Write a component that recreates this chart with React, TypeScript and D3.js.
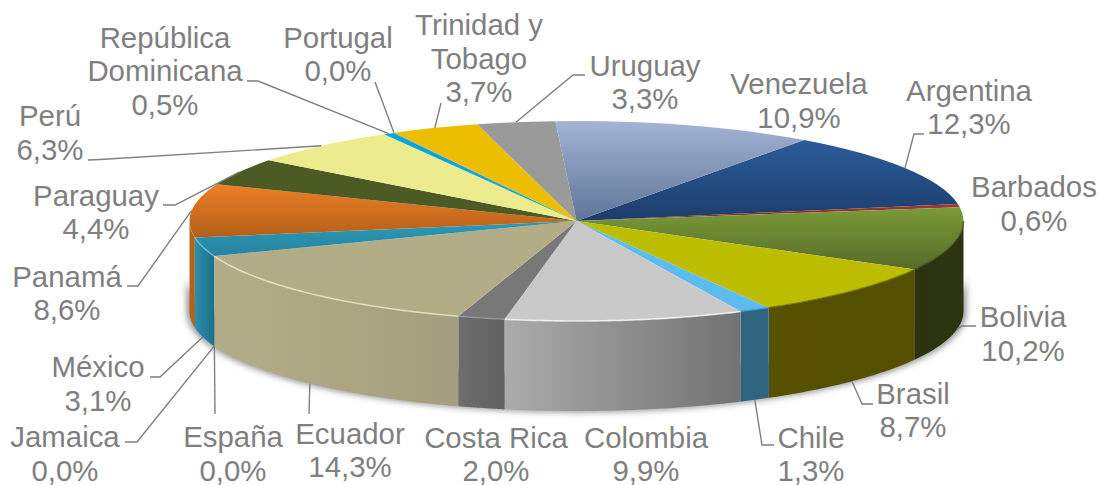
import React from "react";
import * as d3 from "d3";

const categories = ["Argentina","Barbados","Bolivia","Brasil","Chile","Colombia","Costa Rica","Ecuador","España","Jamaica","México","Panamá","Paraguay","Perú","República Dominicana","Portugal","Trinidad y Tobago","Uruguay","Venezuela"];
const values = [12.25,0.55,10.24,8.66,1.3,9.94,1.96,14.3,0.02,0.02,3.06,8.64,4.36,6.34,0.45,0.04,3.66,3.26,10.86];

const topLight = ["#2b5c9a","#a33a36","#7a9a38","#bdbd00","#5cbcf0","#c9c9c9","#787878","#b3ad87","#8a8a3a","#888","#2b9ab8","#ed7f26","#4c5a24","#ecec8e","#00a6de","#888","#edbe00","#9a9a9a","#a3b4d4"];
const topDark = ["#1c3d6b","#7a2a28","#566c28","#bdbd00","#5cbcf0","#c9c9c9","#787878","#b3ad87","#8a8a3a","#888","#27839f","#b35f18","#4c5a24","#ecec8e","#00a6de","#888","#edbe00","#9a9a9a","#5f7597"];
const wallLight = ["#1c3d6b","#7a2a28","#2a3210","#565000","#2f6480","#ababab","#6e6e6e","#b3ad87","#8a8a3a","#888","#2c8fae","#b8651a","#4c5a24","#ecec8e","#00a6de","#888","#edbe00","#9a9a9a","#5f7597"];
const wallDark = ["#1c3d6b","#7a2a28","#2c3410","#545000","#2f6480","#727272","#606060","#a49e7e","#8a8a3a","#888","#1f6f8a","#b0601a","#4c5a24","#ecec8e","#00a6de","#888","#edbe00","#9a9a9a","#5f7597"];
const rimColor = ["none","none","#3a4416","#5c5800","#3f86ac","#ffffff","#9a9a9a","#f2ecc6","none","none","#6cc4dc","none","none","none","none","none","none","none","none"];

const labelLines = [["Argentina"],["Barbados"],["Bolivia"],["Brasil"],["Chile"],["Colombia"],["Costa Rica"],["Ecuador"],["España"],["Jamaica"],["México"],["Panamá"],["Paraguay"],["Perú"],["República","Dominicana"],["Portugal"],["Trinidad y","Tobago"],["Uruguay"],["Venezuela"]];
const labelX = [969,1034,1023,913,811,646,496,350,233,65,98,67,96,50,165,338,479,645,799];
const labelY = [100.7,197,327,403.5,447.7,447.7,447.7,443.5,447,447,377,286.5,205.7,126,47.5,47.5,35,75.7,94];
// leader elbows: [elbow, end] in page pixels; null = the label has no leader
const leaderEnds: ([number, number][] | null)[] = [
  [[914,134],[924,134]], null, [[962,326],[976,326]], [[862,404],[873,404]], [[762,445],[774,445]],
  null, null, [[309,414]], [[215,414]], [[137,442],[125,442]], [[160,377],[150,377]],
  [[138,286],[127,286]], [[175,205],[163,205]], [[100,159.5],[88,160]], [[258,81],[247,81]],
  [[375,82]], [[441,103]], [[573,75],[585,75]], null,
];

const W = 1099, H = 485;
const cx = 576.5, cy = 221, rx = 387, ry = 100, depth = 90;
const rad = Math.PI / 180;
const FIRST = 36 * rad;
const sx = d3.scaleLinear().domain([-1, 1]).range([cx - rx, cx + rx]);
const sy = d3.scaleLinear().domain([-1, 1]).range([cy - ry, cy + ry]);
const px = (a: number) => sx(Math.sin(a));
const py = (a: number) => sy(-Math.cos(a));
const pie = d3.pie<number>().sort(null).startAngle(FIRST).endAngle(FIRST + 2 * Math.PI);
const arcs = pie(values);
const arcPath = d3.arc<d3.PieArcDatum<number>>().innerRadius(0).outerRadius(1000);
const line = d3.line<[number, number]>();
const rimPoints = (a0: number, a1: number, dy: number): [number, number][] =>
  d3.range(0, 61).map((i) => {
    const a = a0 + ((a1 - a0) * i) / 60;
    return [px(a), py(a) + dy] as [number, number];
  });
const wall = (a0: number, a1: number) =>
  line([...rimPoints(a0, a1, 0), ...rimPoints(a1, a0, depth)]) + "Z";
const LO = 90 * rad, HI = 270 * rad;
const shadowPath = line([...rimPoints(LO, HI, depth * 0.6), ...rimPoints(HI, LO, depth + 1)]) + "Z";
const textColor = "#7f7f7f";
const fmt = (v: number) => v.toFixed(1).replace(".", ",") + "%";

export default function App() {
  return (
    <svg width={W} height={H} viewBox={`0 0 ${W} ${H}`} style={{ position: "absolute", left: 0, top: 0, background: "#fff" }}
      fontFamily="'Liberation Sans', Arial, sans-serif">
      <defs>
        <filter id="soft" x="-5%" y="-20%" width="110%" height="140%"><feGaussianBlur stdDeviation="3" /></filter>
        <filter id="rim" x="-5%" y="-20%" width="110%" height="140%"><feGaussianBlur stdDeviation="0.7" /></filter>
        {arcs.map((_, i) => (
          <linearGradient key={"t" + i} id={"top" + i} x1="0" y1="0" x2="0" y2="1">
            <stop offset="0" stopColor={topLight[i]} />
            <stop offset="1" stopColor={topDark[i]} />
          </linearGradient>
        ))}
        {arcs.map((_, i) => (
          <linearGradient key={"w" + i} id={"wall" + i} x1="0" y1="0" x2="1" y2="0">
            <stop offset="0" stopColor={wallLight[i]} />
            <stop offset="1" stopColor={wallDark[i]} />
          </linearGradient>
        ))}
      </defs>
      <path d={shadowPath} fill="#444" opacity={0.6} filter="url(#soft)"
        transform={`translate(${cx},0) scale(1.007,1) translate(${-cx},0)`} />
      {arcs.map((d, i) => {
        const a0 = Math.max(d.startAngle, LO), a1 = Math.min(d.endAngle, HI);
        return a1 > a0 ? <path key={i} d={wall(a0, a1)} fill={`url(#wall${i})`} /> : null;
      })}
      {arcs.map((d, i) => (
        <path key={i} d={arcPath(d) as string} fill={`url(#top${i})`}
          transform={`translate(${cx},${cy}) scale(${rx / 1000},${ry / 1000})`} />
      ))}
      {arcs.map((d, i) => {
        const a0 = Math.max(d.startAngle, LO), a1 = Math.min(d.endAngle, HI);
        return a1 > a0 && rimColor[i] !== "none" ? (
          <path key={i} d={line(rimPoints(a0, a1, 0)) as string} fill="none" stroke={rimColor[i]} strokeOpacity={0.7} strokeWidth={1.6} filter="url(#rim)" />
        ) : null;
      })}
      {arcs.map((d, i) => {
        const ends = leaderEnds[i];
        if (!ends) return null;
        const a = (d.startAngle + d.endAngle) / 2;
        const n = ((a % (2 * Math.PI)) + 2 * Math.PI) % (2 * Math.PI);
        const front = n > LO && n < HI;
        const start: [number, number] = [px(a), py(a) + (front ? depth : 0)];
        return <path key={i} d={line([start, ...ends]) as string} fill="none" stroke="#7f7f7f" strokeWidth={1.4} />;
      })}
      <g fontSize={29.4} fill={textColor} textAnchor="middle">
        {categories.map((c, i) => {
          const lines = [...labelLines[i], fmt(values[i])];
          return (
            <text key={c} x={labelX[i]} y={labelY[i]}>
              {lines.map((l, j) => (
                <tspan key={j} x={labelX[i]} dy={j === 0 ? 0 : 33.6}>{l}</tspan>
              ))}
            </text>
          );
        })}
      </g>
    </svg>
  );
}
